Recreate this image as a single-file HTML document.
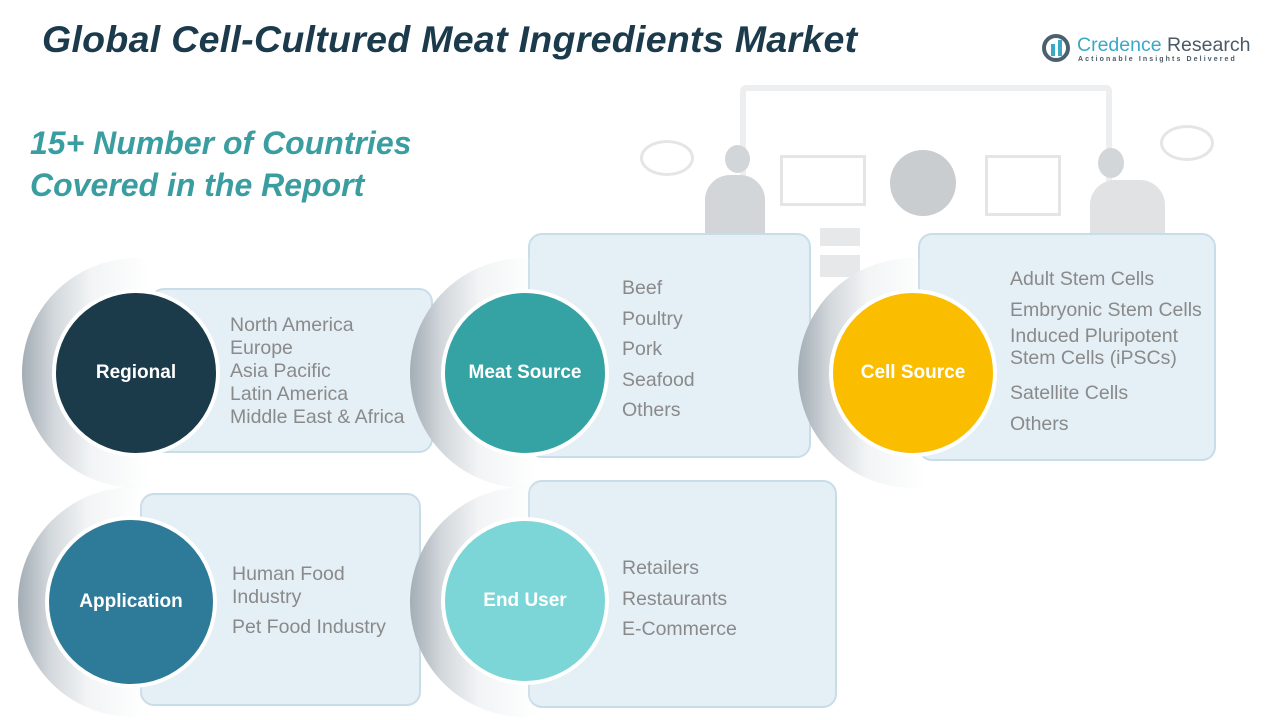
<!DOCTYPE html>
<html><head><meta charset="utf-8"><style>
body{margin:0;width:1280px;height:720px;background:#fff;position:relative;overflow:hidden;font-family:"Liberation Sans",sans-serif}
.a{position:absolute}
.box{position:absolute;background:#e4eff6;border:2px solid #c9dde9;border-radius:14px;box-sizing:border-box}
.ring{position:absolute;border-radius:50%;background:linear-gradient(to right,#a3adb5 0%,#d3d8dc 14%,#f2f4f5 30%,rgba(255,255,255,0) 55%)}
.c{position:absolute;border-radius:50%;border:4px solid #fff;color:#fff;font-weight:bold;font-size:19px;display:flex;align-items:center;justify-content:center;box-sizing:border-box}
.t{position:absolute;color:#8a8a8a;font-size:19.5px;line-height:23px}
</style></head><body>
<!-- background illustration -->
<div class="a" style="left:740px;top:85px;width:372px;height:260px;border:6px solid #eceeef;border-radius:6px;box-sizing:border-box"></div>
<div class="a" style="left:780px;top:155px;width:80px;height:45px;border:3px solid #e3e5e7"></div>
<div class="a" style="left:890px;top:150px;width:66px;height:66px;border-radius:50%;background:#c9cdd0"></div>
<div class="a" style="left:985px;top:155px;width:70px;height:55px;border:3px solid #e3e5e7"></div>
<div class="a" style="left:820px;top:228px;width:40px;height:18px;background:#e6e8ea"></div>
<div class="a" style="left:820px;top:255px;width:40px;height:22px;background:#e6e8ea"></div>
<div class="a" style="left:705px;top:175px;width:60px;height:70px;border-radius:25px 25px 0 0;background:#d3d6d9"></div>
<div class="a" style="left:725px;top:145px;width:25px;height:28px;border-radius:50%;background:#d3d6d9"></div>
<div class="a" style="left:1090px;top:180px;width:75px;height:70px;border-radius:25px 25px 0 0;background:#e0e2e4"></div>
<div class="a" style="left:1098px;top:148px;width:26px;height:30px;border-radius:50%;background:#d3d6d9"></div>
<div class="a" style="left:640px;top:140px;width:48px;height:30px;border:3px solid #e3e5e7;border-radius:50%"></div>
<div class="a" style="left:1160px;top:125px;width:48px;height:30px;border:3px solid #e3e5e7;border-radius:50%"></div>

<div class="a" style="left:42px;top:18px;font-size:37.5px;font-weight:bold;font-style:italic;color:#1b3a4b;letter-spacing:0.3px">Global Cell-Cultured Meat Ingredients Market</div>
<div class="a" style="left:30px;top:122px;font-size:32px;font-weight:bold;font-style:italic;color:#3a9ea0;line-height:42px">15+ Number of Countries<br>Covered in the Report</div>

<!-- logo -->
<div class="a" style="left:1042px;top:34px;width:28px;height:28px;border-radius:50%;border:4px solid #4a6070;box-sizing:border-box"></div>
<div class="a" style="left:1051px;top:44px;width:4px;height:12px;background:#3aa8c8"></div>
<div class="a" style="left:1058px;top:40px;width:4px;height:16px;background:#3aa8c8"></div>
<div class="a" style="left:1077px;top:34px;font-size:19.5px;color:#3aa8c8">Credence <span style="color:#4a5a66">Research</span></div>
<div class="a" style="left:1078px;top:56px;font-size:7px;color:#4a5a66;letter-spacing:2.1px;font-weight:bold">Actionable Insights Delivered</div>

<!-- boxes -->
<div class="box" style="left:150px;top:288px;width:283px;height:165px"></div>
<div class="box" style="left:528px;top:233px;width:283px;height:225px"></div>
<div class="box" style="left:918px;top:233px;width:298px;height:228px"></div>
<div class="box" style="left:140px;top:493px;width:281px;height:213px"></div>
<div class="box" style="left:528px;top:480px;width:309px;height:228px"></div>

<!-- rings -->
<div class="ring" style="left:22px;top:258px;width:230px;height:230px"></div>
<div class="ring" style="left:410px;top:258px;width:230px;height:230px"></div>
<div class="ring" style="left:798px;top:258px;width:230px;height:230px"></div>
<div class="ring" style="left:18px;top:487px;width:230px;height:230px"></div>
<div class="ring" style="left:410px;top:487px;width:230px;height:230px"></div>

<div class="c" style="left:52px;top:289px;width:168px;height:168px;background:#1b3b4b">Regional</div>
<div class="c" style="left:441px;top:289px;width:168px;height:168px;background:#35a3a4">Meat Source</div>
<div class="c" style="left:829px;top:289px;width:168px;height:168px;background:#fbbd00">Cell Source</div>
<div class="c" style="left:45px;top:516px;width:172px;height:172px;background:#2e7a99">Application</div>
<div class="c" style="left:441px;top:517px;width:168px;height:168px;background:#7cd5d7">End User</div>

<div class="t" style="left:230px;top:314px">North America<br>Europe<br>Asia Pacific<br>Latin America<br>Middle East &amp; Africa</div>
<div class="t" style="left:622px;top:273px;line-height:30.5px">Beef<br>Poultry<br>Pork<br>Seafood<br>Others</div>
<div class="t" style="left:1010px;top:264px;line-height:30.5px">Adult Stem Cells<br>Embryonic Stem Cells</div>
<div class="t" style="left:1010px;top:325px;line-height:22px">Induced Pluripotent<br>Stem Cells (iPSCs)</div>
<div class="t" style="left:1010px;top:378px;line-height:30.5px">Satellite Cells<br>Others</div>
<div class="t" style="left:232px;top:563px">Human Food<br>Industry</div>
<div class="t" style="left:232px;top:616px">Pet Food Industry</div>
<div class="t" style="left:622px;top:553px;line-height:30.5px">Retailers<br>Restaurants<br>E-Commerce</div>
</body></html>
